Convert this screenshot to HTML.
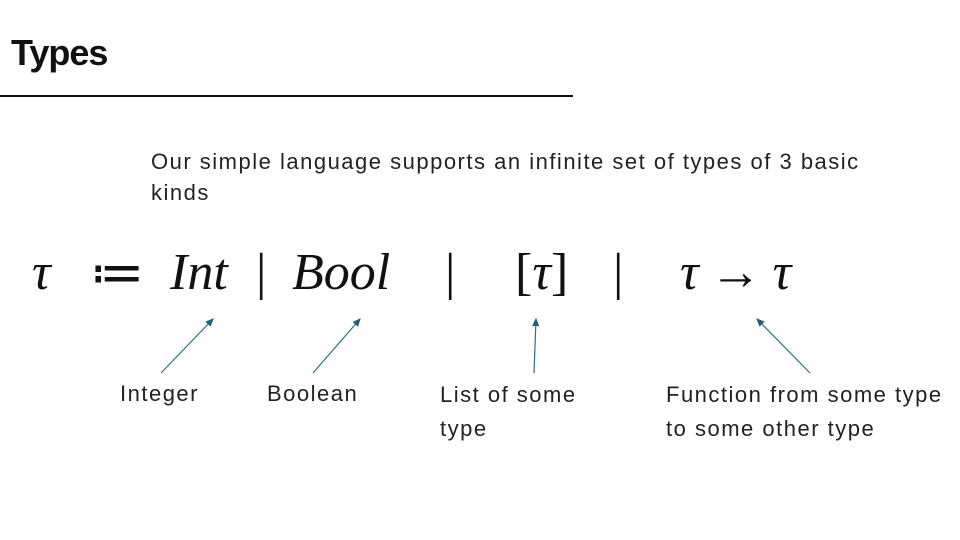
<!DOCTYPE html>
<html><head><meta charset="utf-8"><style>
body{margin:0;width:960px;height:540px;background:#fff;position:relative;overflow:hidden;font-family:"Liberation Sans",sans-serif;color:#111}
.a{position:absolute;white-space:nowrap}
.m{font-family:"Liberation Serif",serif;font-size:52px;font-style:italic;top:243px}
.n{font-family:"Liberation Serif",serif;font-size:52px;top:243px}
.l{font-size:22px;color:#222;letter-spacing:1.5px}
</style></head><body>
<div class="a" style="left:11px;top:32px;font-size:36px;font-weight:bold;letter-spacing:-1px">Types</div>
<div class="a" style="left:0;top:95px;width:573px;height:2px;background:#111"></div>
<div class="a l" style="left:151px;top:146px;line-height:31px">Our simple language supports an infinite set of types of 3 basic<br>kinds</div>
<div class="a m" style="left:32px">τ</div>
<div class="a n" style="left:90px;font-size:54px;top:241px">≔</div>
<div class="a m" style="left:170px">Int</div>
<div class="a n" style="left:256px">|</div>
<div class="a m" style="left:292px">Bool</div>
<div class="a n" style="left:445px">|</div>
<div class="a n" style="left:515px">[<i>τ</i>]</div>
<div class="a n" style="left:613px">|</div>
<div class="a n" style="left:680px;letter-spacing:-1px"><i>τ</i> → <i>τ</i></div>
<svg class="a" style="left:0;top:0" width="960" height="540">
<defs><marker id="h" markerWidth="8" markerHeight="8" refX="6" refY="3" orient="auto"><path d="M0,0L7,3L0,6z" fill="#1f5f7a"/></marker></defs>
<g stroke="#2d6e8a" stroke-width="1.2" marker-end="url(#h)">
<line x1="161" y1="373" x2="213" y2="319"/>
<line x1="313" y1="373" x2="360" y2="319"/>
<line x1="534" y1="373" x2="536" y2="319"/>
<line x1="810" y1="373" x2="757" y2="319"/>
</g></svg>
<div class="a l" style="left:120px;top:381px">Integer</div>
<div class="a l" style="left:267px;top:381px">Boolean</div>
<div class="a l" style="left:440px;top:378px;line-height:34px">List of some<br>type</div>
<div class="a l" style="left:666px;top:378px;line-height:34px">Function from some type<br>to some other type</div>
</body></html>
